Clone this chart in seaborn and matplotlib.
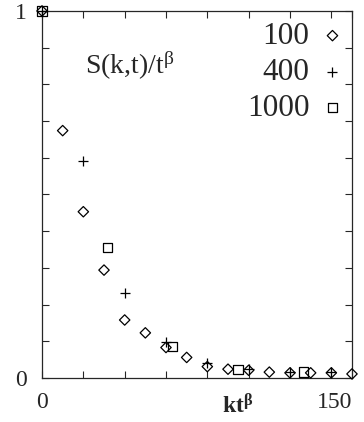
import numpy as np
import pandas as pd
import matplotlib
matplotlib.use('Agg')
import matplotlib.pyplot as plt
import seaborn as sns

# data (scaled structure factor vs k t^beta)
k100 = [0, 10, 20, 30, 40, 50, 60, 70, 80, 90, 100, 110, 120, 130, 140, 150]
s100 = [1.0, 0.674, 0.453, 0.294, 0.158, 0.123, 0.083, 0.056, 0.031, 0.024, 0.021, 0.016, 0.014, 0.014, 0.014, 0.011]
k400 = [0, 20, 40, 60, 80, 100, 120, 140]
s400 = [1.0, 0.591, 0.231, 0.099, 0.040, 0.024, 0.016, 0.016]
k1000 = [0, 31.6, 63.2, 94.8, 126.4]
s1000 = [1.0, 0.355, 0.085, 0.024, 0.016]
labels = ['100', '400', '1000']

sns.set_style('ticks')
plt.rcParams['font.family'] = ['Liberation Serif', 'DejaVu Serif']
plt.rcParams['mathtext.fontset'] = 'custom'
plt.rcParams['mathtext.rm'] = 'Liberation Serif'
plt.rcParams['mathtext.it'] = 'Liberation Serif:italic'
plt.rcParams['mathtext.bf'] = 'Liberation Serif:bold'

fig = plt.figure(figsize=(3.64, 4.22), dpi=100)
ax = fig.add_axes([0.1154, 0.1043, 0.8516, 0.8697])

sns.scatterplot(x=k100, y=s100, marker='D', s=28, facecolors='none', edgecolors='black',
                linewidths=0.9, label=labels[0], ax=ax, clip_on=False, zorder=3)
sns.scatterplot(x=k400, y=s400, marker='+', s=55, color='black',
                linewidths=0.9, label=labels[1], ax=ax, clip_on=False, zorder=3)
sns.scatterplot(x=k1000, y=s1000, marker='s', s=45, facecolors='none', edgecolors='black',
                linewidths=0.9, label=labels[2], ax=ax, clip_on=False, zorder=3)

ax.set_xlim(0, 150)
ax.set_ylim(0, 1)
ax.set_xticks(np.arange(0, 151, 20).tolist() + [150])
ax.set_xticklabels(['0', '', '', '', '', '', '', '', '150'])
ax.get_xticklabels()[-1].set_ha('right')
ax.set_yticks(np.arange(0, 1.01, 0.1))
ax.set_yticklabels(['0'] + [''] * 9 + ['1'])
ax.tick_params(direction='in', top=True, right=True, length=5, width=0.8, labelsize=17)
ax.tick_params(axis='x', pad=10)
ax.tick_params(axis='y', pad=11)
for sp in ax.spines.values():
    sp.set_linewidth(0.9)

ax.set_xlabel(r'kt$^{\mathregular{β}}$', fontsize=17, fontweight='bold')
ax.xaxis.set_label_coords(0.63, -0.044)
ax.xaxis.label.set_va('top')
ax.set_ylabel('')
ax.text(0.139, 0.85, r'S(k,t)/t$^{\mathregular{β}}$', transform=ax.transAxes, fontsize=20, va='center')

leg = ax.legend(loc='upper right', markerfirst=False, frameon=False, fontsize=22.5,
                handlelength=1.0, handletextpad=0.24, labelspacing=0.22,
                bbox_to_anchor=(1.058, 1.03), borderaxespad=0.3)
for t in leg.get_texts():
    t.set_ha('right')

fig.savefig('out.png', dpi=100)
